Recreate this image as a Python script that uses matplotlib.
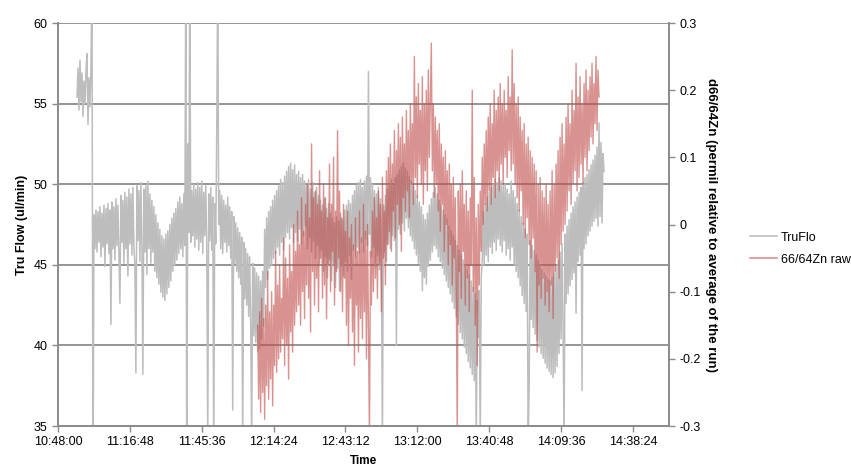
import numpy as np
import matplotlib
matplotlib.use("Agg")
import matplotlib.pyplot as plt
from matplotlib.ticker import FuncFormatter, FixedLocator

plt.rcParams['font.family'] = ['Liberation Sans', 'DejaVu Sans']

# TruFlo flow (ul/min), logged every 24 s starting 10:55:36
truflo_start = "10:55:36"
truflo_step_s = 24
truflo = [
    55.4, 57.2, 54.6, 57.7, 55.1, 56.9, 54.2, 56.4, 55.0, 57.0,
    58.1, 53.7, 56.6, 54.8, 57.3, 63.0, 30.0, 48.1, 46.0, 48.4,
    45.8, 48.3, 46.4, 48.6, 45.5, 48.2, 46.1, 48.7, 44.9, 48.5,
    46.3, 48.8, 45.7, 48.4, 41.3, 48.9, 46.0, 48.6, 45.3, 49.1,
    46.2, 48.7, 45.6, 42.6, 49.3, 46.4, 49.0, 45.1, 49.5, 46.0,
    49.2, 44.3, 49.7, 46.3, 49.4, 45.6, 49.8, 46.1, 45.0, 38.3,
    49.9, 46.5, 49.6, 45.2, 50.1, 46.2, 38.2, 49.7, 45.8, 49.9,
    44.4, 50.2, 46.0, 49.4, 45.1, 49.0, 45.8, 48.6, 44.6, 48.1,
    44.2, 47.6, 43.8, 47.2, 43.3, 46.8, 43.0, 46.6, 42.8, 46.9,
    43.2, 47.1, 43.6, 47.5, 44.0, 47.9, 44.6, 48.2, 45.0, 48.5,
    45.3, 48.9, 45.7, 49.2, 46.0, 48.8, 45.5, 49.4, 46.2, 63.0,
    30.0, 52.5, 47.0, 63.0, 46.4, 49.6, 46.8, 50.0, 46.1, 49.7,
    46.6, 50.1, 45.9, 49.8, 46.4, 50.2, 45.7, 49.5, 46.8, 49.9,
    46.2, 34.0, 49.4, 46.5, 49.8, 45.9, 49.2, 33.0, 48.8, 46.3,
    53.3, 63.0, 47.5, 49.6, 46.0, 49.3, 45.7, 49.0, 46.4, 48.7,
    45.8, 49.2, 46.2, 48.6, 45.4, 48.3, 36.0, 48.0, 45.1, 47.6,
    44.6, 47.3, 44.2, 47.0, 43.8, 46.7, 34.0, 46.4, 42.9, 46.0,
    42.5, 45.7, 41.8, 45.5, 41.4, 34.0, 45.1, 40.6, 44.8, 40.2,
    44.5, 39.6, 44.3, 39.8, 44.0, 40.4, 44.6, 41.2, 47.2, 43.6,
    47.9, 44.1, 48.3, 44.8, 48.6, 45.0, 49.0, 45.4, 49.3, 45.7,
    49.6, 46.1, 49.9, 45.6, 50.3, 46.4, 50.1, 45.9, 50.5, 46.7,
    50.8, 47.0, 51.1, 46.6, 51.3, 47.3, 50.9, 46.4, 51.2, 47.0,
    50.6, 46.5, 50.8, 47.2, 50.4, 46.3, 50.6, 46.8, 50.2, 47.4,
    49.9, 46.0, 50.3, 46.7, 49.7, 45.8, 50.1, 46.5, 49.5, 45.4,
    49.8, 46.2, 49.3, 45.1, 49.0, 45.9, 48.7, 44.6, 49.1, 45.5,
    48.5, 44.2, 48.8, 45.3, 48.2, 44.0, 47.9, 45.1, 47.6, 43.6,
    48.0, 44.8, 47.7, 43.4, 48.2, 45.0, 47.8, 44.3, 48.4, 45.2,
    48.7, 44.6, 49.0, 45.6, 48.8, 44.1, 49.3, 45.9, 49.6, 45.5,
    49.9, 46.1, 50.1, 45.7, 50.3, 46.4, 49.8, 45.8, 50.2, 46.6,
    50.5, 46.2, 57.0, 46.9, 50.4, 45.5, 50.0, 46.1, 49.6, 44.9,
    49.4, 45.6, 49.8, 44.7, 49.1, 45.3, 34.0, 48.7, 45.8, 49.3,
    45.2, 49.7, 46.3, 50.0, 46.0, 50.3, 46.8, 49.9, 46.5, 50.4,
    40.0, 50.6, 47.2, 50.9, 46.9, 51.1, 47.6, 51.3, 47.1, 51.0,
    47.9, 50.8, 47.3, 50.5, 46.8, 50.2, 46.5, 49.9, 46.0, 49.6,
    45.6, 49.3, 45.1, 48.9, 44.6, 48.6, 43.4, 48.1, 44.2, 47.8,
    43.8, 48.2, 44.9, 48.7, 45.3, 49.1, 45.8, 49.5, 46.2, 49.8,
    46.0, 49.4, 45.5, 49.0, 45.2, 48.7, 44.8, 48.4, 44.4, 48.1,
    44.0, 47.8, 43.6, 47.4, 43.2, 47.1, 42.7, 46.8, 42.3, 46.5,
    41.8, 46.2, 41.3, 45.9, 40.8, 45.6, 40.4, 45.3, 39.9, 45.0,
    39.5, 44.7, 39.0, 44.4, 38.6, 44.0, 38.2, 43.6, 37.8, 43.2,
    34.0, 42.8, 40.5, 43.4, 34.0, 44.2, 45.3, 48.3, 45.0, 48.8,
    45.6, 49.2, 45.2, 49.5, 46.1, 49.8, 45.7, 50.0, 46.4, 50.3,
    45.9, 50.1, 46.6, 50.4, 46.2, 50.2, 45.8, 49.9, 46.5, 50.0,
    45.6, 49.7, 46.0, 49.4, 45.3, 50.2, 46.1, 49.6, 45.0, 49.2,
    44.6, 48.8, 44.2, 48.4, 43.7, 48.0, 43.1, 47.6, 42.6, 47.2,
    42.1, 46.9, 34.0, 37.4, 46.5, 41.6, 46.2, 41.1, 45.9, 40.7,
    45.6, 40.3, 45.3, 39.9, 45.0, 39.5, 44.7, 39.2, 44.5, 38.9,
    44.3, 38.6, 44.1, 38.4, 44.0, 38.2, 44.2, 38.0, 44.5, 38.3,
    44.9, 38.7, 45.3, 39.5, 45.8, 40.4, 46.3, 41.2, 34.0, 46.9,
    42.6, 47.4, 43.2, 47.8, 43.7, 48.2, 44.1, 48.6, 44.5, 48.9,
    42.0, 49.2, 45.2, 49.5, 45.6, 49.8, 37.2, 50.1, 46.0, 50.4,
    46.3, 50.6, 46.8, 50.9, 47.1, 51.2, 47.4, 51.5, 47.7, 51.8,
    47.9, 52.3, 47.4, 53.8, 48.0, 52.6, 47.6, 51.9, 50.8,
]

# d66/64Zn raw (permil), every 24 s starting 12:08:00
zn_start = "12:08:00"
zn_step_s = 24
zn_raw = [
    -0.15, -0.26, -0.13, -0.28, -0.11, -0.25, -0.14, -0.29, -0.12, -0.24,
    -0.07, -0.26, -0.13, -0.23, -0.10, -0.27, -0.12, -0.21, -0.04, -0.22,
    -0.09, -0.20, -0.06, -0.19, -0.11, -0.17, -0.02, -0.21, -0.05, -0.18,
    -0.08, -0.23, -0.03, -0.16, -0.07, -0.19, 0.00, -0.15, -0.04, -0.13,
    0.02, -0.12, -0.03, -0.15, 0.04, -0.10, -0.01, -0.14, 0.03, -0.09,
    0.06, -0.11, 0.01, -0.16, 0.12, -0.07, 0.04, -0.12, 0.05, -0.08,
    0.03, -0.13, 0.08, -0.05, 0.02, -0.11, 0.06, -0.09, 0.04, -0.14,
    0.01, -0.06, 0.09, -0.10, 0.03, -0.04, 0.10, -0.12, 0.02, -0.07,
    0.14, -0.05, 0.05, -0.10, 0.01, -0.13, 0.03, -0.08, -0.01, -0.15,
    0.02, -0.18, -0.02, -0.11, 0.00, -0.16, -0.03, -0.21, 0.01, -0.12,
    -0.04, -0.19, 0.02, -0.14, -0.02, -0.17, 0.03, -0.13, -0.01, -0.20,
    0.00, -0.15, -0.32, -0.04, -0.12, 0.02, -0.10, 0.04, -0.08, 0.01,
    -0.11, 0.05, -0.06, 0.03, -0.13, 0.07, -0.05, 0.02, -0.09, 0.08,
    -0.03, 0.10, -0.01, 0.12, -0.04, 0.09, 0.02, 0.14, -0.02, 0.11,
    0.03, 0.15, 0.00, 0.13, -0.04, 0.16, 0.04, 0.12, 0.02, 0.17,
    0.05, 0.14, 0.01, 0.18, 0.06, 0.15, 0.03, 0.25, 0.07, 0.19,
    0.04, 0.21, 0.09, 0.17, 0.06, 0.22, 0.03, 0.18, 0.08, 0.20,
    0.05, 0.23, 0.10, 0.19, 0.27, 0.08, 0.18, 0.04, 0.16, 0.06,
    0.14, 0.02, 0.15, -0.01, 0.12, 0.03, 0.10, -0.04, 0.11, 0.00,
    0.08, -0.06, 0.09, -0.03, 0.06, -0.09, 0.07, -0.05, 0.04, -0.10,
    -0.32, 0.05, -0.07, 0.06, -0.11, 0.08, -0.04, 0.03, -0.12, 0.05,
    -0.08, 0.02, -0.13, 0.04, -0.06, 0.20, -0.10, 0.07, -0.15, 0.01,
    -0.21, 0.03, -0.09, 0.05, -0.04, 0.10, 0.00, 0.12, 0.03, 0.14,
    0.02, 0.16, 0.05, 0.18, 0.03, 0.15, 0.07, 0.20, 0.04, 0.17,
    0.08, 0.19, 0.05, 0.21, 0.09, 0.18, 0.06, 0.20, 0.10, 0.17,
    0.07, 0.22, 0.11, 0.19, 0.08, 0.26, 0.09, 0.21, 0.06, 0.18,
    0.04, 0.19, 0.02, 0.16, 0.05, 0.14, 0.00, 0.15, -0.02, 0.12,
    0.01, 0.13, -0.03, 0.11, -0.05, 0.10, -0.02, 0.09, -0.07, 0.08,
    -0.19, 0.06, -0.09, 0.07, -0.11, 0.05, -0.08, 0.04, -0.12, 0.06,
    -0.10, 0.03, -0.13, 0.05, -0.09, 0.08, -0.14, 0.06, -0.07, 0.09,
    -0.05, 0.11, -0.08, 0.13, -0.03, 0.15, -0.01, 0.12, 0.00, 0.16,
    0.02, 0.18, 0.05, 0.15, 0.03, 0.20, 0.06, 0.17, 0.08, 0.24,
    0.05, 0.19, 0.07, 0.22, 0.09, 0.18, 0.06, 0.21, 0.10, 0.23,
    0.08, 0.20, 0.11, 0.22, 0.13, 0.24, 0.12, 0.21, 0.15, 0.25,
    0.14, 0.23, 0.19,
]

x_ticks = [0.45 + 0.02 * k for k in range(9)]


def to_day(hms):
    h, m, s = [int(p) for p in hms.split(":")]
    return (h * 3600 + m * 60 + s) / 86400.0


def fmt_time(v, pos=None):
    sec = int(round(v * 86400))
    return "{0}:{1:02d}:{2:02d}".format(sec // 3600, (sec % 3600) // 60, sec % 60)


t_flo = to_day(truflo_start) + np.arange(len(truflo)) * truflo_step_s / 86400.0
t_zn = to_day(zn_start) + np.arange(len(zn_raw)) * zn_step_s / 86400.0

fig = plt.figure(figsize=(8.51, 4.66), dpi=100)
ax = fig.add_axes([0.0682, 0.0858, 0.7178, 0.8648])
ax2 = ax.twinx()

grid_c = '#8c8c8c'
ax.set_ylim(35, 60)
ax.set_yticks([35, 40, 45, 50, 55, 60])
ax.yaxis.grid(True, color=grid_c, lw=1.3)
ax.set_axisbelow(True)
ax.set_xlim(0.45, 0.62)
ax.xaxis.set_major_locator(FixedLocator(x_ticks))
ax.xaxis.set_major_formatter(FuncFormatter(fmt_time))

l1, = ax.plot(t_flo, truflo, color='#bdbdbd', lw=1.1, label='TruFlo')

ax2.set_ylim(-0.3, 0.3)
ax2.set_yticks([-0.3, -0.2, -0.1, 0, 0.1, 0.2, 0.3])
ax2.yaxis.set_major_formatter(FuncFormatter(lambda v, p: "0" if abs(v) < 1e-9 else "{0:g}".format(round(v, 1))))
l2, = ax2.plot(t_zn, zn_raw, color='#c0504d', lw=1.0, alpha=0.62, label='66/64Zn raw')

for a in (ax, ax2):
    a.spines['top'].set_visible(False)
    for side in ('left', 'right', 'bottom'):
        a.spines[side].set_color(grid_c)
        a.spines[side].set_linewidth(1.3)
    a.tick_params(colors=grid_c, labelcolor='black', labelsize=9, length=4, width=1.0)

ax.set_xlabel("Time", fontsize=8.5, fontweight='bold', labelpad=5)
ax.set_ylabel("Tru Flow (ul/min)", fontsize=9, fontweight='bold', labelpad=4)
ax2.set_ylabel("d66/64Zn (permil relative to average of the run)", fontsize=9.5,
               fontweight='bold', rotation=270, labelpad=12)

fig.legend([l1, l2], ['TruFlo', '66/64Zn raw'], loc='upper left',
           bbox_to_anchor=(0.868, 0.527), frameon=False, fontsize=9,
           handlelength=2.2, handletextpad=0.3, labelspacing=0.8)
for h in fig.legends[0].legend_handles:
    h.set_linewidth(1.2)

plt.savefig('out.png', dpi=100)
